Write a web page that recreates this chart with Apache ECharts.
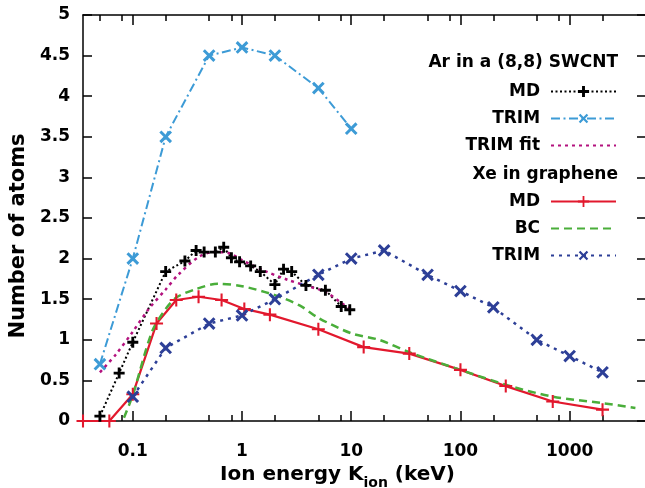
<!DOCTYPE html>
<html>
<meta charset="UTF-8">
<title>sputtered atoms vs ion energy</title>
<style type="text/css">
    html, body { margin: 0px; height: 100%; width: 100%; background: #fff; }
    #chart { width: 645px; height: 488px; }
</style>
<script src="https://cdn.jsdelivr.net/npm/echarts@6/dist/echarts.min.js"></script>
<body>
    <div id="chart"></div>
    <script>
        // Ar in a (8,8) SWCNT
        const arMdE = [0.05, 0.075, 0.1, 0.2, 0.3, 0.38, 0.45, 0.57, 0.68, 0.8, 0.95, 1.2, 1.47, 2, 2.4, 2.85, 3.85, 5.8, 8.1, 9.7];
        const arMdN = [0.06, 0.59, 0.97, 1.84, 1.97, 2.1, 2.08, 2.08, 2.14, 2.01, 1.96, 1.91, 1.84, 1.68, 1.87, 1.84, 1.67, 1.61, 1.41, 1.37];
        const arTrimE = [0.05, 0.1, 0.2, 0.5, 1, 2, 5, 10];
        const arTrimN = [0.7, 2.0, 3.5, 4.5, 4.6, 4.5, 4.1, 3.6];
        const arFitE = [0.05, 0.07, 0.1, 0.14, 0.2, 0.26, 0.4, 0.55, 0.75, 1, 1.6, 2.6, 3.8, 5.8, 8, 10];
        const arFitN = [0.6, 0.82, 1.1, 1.38, 1.62, 1.8, 2.02, 2.08, 2.07, 1.98, 1.85, 1.74, 1.67, 1.59, 1.46, 1.37];

        // Xe in graphene
        const xeMdE = [0.035, 0.061, 0.1, 0.165, 0.25, 0.4, 0.65, 1.05, 1.8, 5, 13, 34, 100, 260, 700, 2000];
        const xeMdN = [0, 0, 0.33, 1.2, 1.49, 1.53, 1.49, 1.38, 1.31, 1.13, 0.91, 0.83, 0.63, 0.43, 0.24, 0.14];
        const xeBcE = [0.083, 0.1, 0.15, 0.2, 0.25, 0.37, 0.6, 1, 2, 3.4, 5, 10, 18, 35, 100, 270, 700, 2000, 4000];
        const xeBcN = [0.04, 0.32, 1.1, 1.38, 1.52, 1.62, 1.69, 1.66, 1.55, 1.42, 1.27, 1.08, 1.0, 0.84, 0.63, 0.44, 0.3, 0.22, 0.16];
        const xeTrimE = [0.1, 0.2, 0.5, 1, 2, 5, 10, 20, 50, 100, 200, 500, 1000, 2000];
        const xeTrimN = [0.3, 0.9, 1.2, 1.3, 1.5, 1.8, 2.0, 2.1, 1.8, 1.6, 1.4, 1.0, 0.8, 0.6];

        const xMajor = [0.1, 1, 10, 100, 1000];
        const xMinor = [0.05, 0.08, 0.2, 0.5, 0.8, 2, 5, 8, 20, 50, 80, 200, 500, 800, 2000];

        const xMin = 0.035, xMax = 5000;
        const font = 'DejaVu Sans';
        const black = () => ({ color: '#000', width: 1.5 });

        const zip = (a, b) => a.map((v, i) => [v, b[i]]);
        // filled cross, t = half arm thickness (arm length 1)
        const cross = t => `path://M-1,-${t}H-${t}V-1H${t}V-${t}H1V${t}H${t}V1H-${t}V${t}H-1Z`;

        function line(name, data, color, type, width, symbol, size, rotate) {
            return {
                name: name,
                type: 'line',
                data: data,
                symbol: symbol || 'none',
                symbolSize: size || 0,
                symbolRotate: rotate || 0,
                showSymbol: !!symbol,
                lineStyle: { color: color, width: width, type: type },
                itemStyle: { color: color },
                emphasis: { disabled: true },
                animation: false
            };
        }

        // log energy axis; extra axes only carry tick marks
        const logAxis = (position, ticks, len, showLine) => ({
            type: 'log',
            position: position,
            min: xMin,
            max: xMax,
            logBase: 10,
            splitLine: { show: false },
            axisLabel: { show: false },
            axisLine: { show: showLine, onZero: false, lineStyle: black() },
            axisTick: { show: true, inside: true, length: len, customValues: ticks, lineStyle: black() }
        });

        const legendBase = () => ({
            orient: 'vertical', align: 'right', right: 28, padding: 0,
            itemWidth: 65, itemHeight: 14, itemGap: 10, selectedMode: false,
            formatter: n => n.slice(3) + ' ',
            textStyle: { fontFamily: font, fontWeight: 'bold', fontSize: 17, color: '#000' }
        });

        const bottomAxis = logAxis('bottom', xMajor, 10, true);
        bottomAxis.name = '{a|Ion energy K}{b|ion}{a| (keV)}';
        bottomAxis.nameLocation = 'middle';
        bottomAxis.nameGap = 44;
        bottomAxis.nameTextStyle = {
            padding: [0, 54, 0, 0],
            rich: {
                a: { fontFamily: font, fontWeight: 'bold', fontSize: 20, color: '#000', lineHeight: 24, verticalAlign: 'top' },
                b: { fontFamily: font, fontWeight: 'bold', fontSize: 14, color: '#000', lineHeight: 16, padding: [11, 0, 0, 0], verticalAlign: 'top' }
            }
        };
        bottomAxis.axisLabel = {
            show: true, customValues: xMajor, margin: 22,
            formatter: v => String(+Number(v).toPrecision(6)),
            fontFamily: font, fontWeight: 'bold', fontSize: 17, color: '#000'
        };

        const chart = echarts.init(document.getElementById('chart'));
        chart.setOption({
            animation: false,
            grid: { left: 83, top: 15, width: 563, height: 406, outerBoundsMode: 'none' },
            graphic: [
                { type: 'text', style: { text: 'Ar in a (8,8) SWCNT', x: 618, y: 63, align: 'right', verticalAlign: 'middle', font: 'bold 17px "DejaVu Sans"', fill: '#000' } },
                { type: 'text', style: { text: 'Xe in graphene', x: 618, y: 175, align: 'right', verticalAlign: 'middle', font: 'bold 17px "DejaVu Sans"', fill: '#000' } }
            ],
            legend: [
                Object.assign(legendBase(), {
                    top: 83,
                    data: ['Ar MD', 'Ar TRIM', { name: 'Ar TRIM fit', itemStyle: { opacity: 0 } }]
                }),
                Object.assign(legendBase(), {
                    top: 193,
                    data: ['Xe MD', { name: 'Xe BC', itemStyle: { opacity: 0 } }, 'Xe TRIM']
                })
            ],
            xAxis: [
                bottomAxis,
                logAxis('top', xMajor, 10, true),
                logAxis('bottom', xMinor, 6, false),
                logAxis('top', xMinor, 6, false)
            ],
            yAxis: [
                {
                    type: 'value', min: 0, max: 5, interval: 0.5, position: 'left',
                    name: 'Number of atoms', nameLocation: 'middle', nameGap: 45,
                    nameTextStyle: { fontFamily: font, fontWeight: 'bold', fontSize: 21, color: '#000', padding: [0, 36, 0, 0] },
                    splitLine: { show: false },
                    axisLine: { show: true, onZero: false, lineStyle: black() },
                    axisTick: { show: true, inside: true, length: 9, lineStyle: black() },
                    axisLabel: { margin: 13, fontFamily: font, fontWeight: 'bold', fontSize: 17, color: '#000' }
                },
                {
                    type: 'value', min: 0, max: 5, interval: 0.5, position: 'right',
                    splitLine: { show: false },
                    axisLine: { show: true, onZero: false, lineStyle: black() },
                    axisTick: { show: true, inside: true, length: 9, lineStyle: black() },
                    axisLabel: { show: false }
                }
            ],
            series: [
                line('Ar MD', zip(arMdE, arMdN), '#000000', [2, 2.5], 2, cross(0.26), 11),
                line('Ar TRIM', zip(arTrimE, arTrimN), '#3d9bd6', [9, 3.5, 2, 3.5], 2, cross(0.2), 15, 45),
                Object.assign(line('Ar TRIM fit', zip(arFitE, arFitN), '#b3127e', [3, 4], 2.5), { smooth: 0.3 }),
                line('Xe MD', zip(xeMdE, xeMdN), '#e2182d', 'solid', 2.2, cross(0.16), 13),
                Object.assign(line('Xe BC', zip(xeBcE, xeBcN), '#4aae3a', [8, 5], 2.5), { smooth: 0.3 }),
                line('Xe TRIM', zip(xeTrimE, xeTrimN), '#2d3f97', [3, 5], 2.5, cross(0.2), 15, 45)
            ]
        });
    </script>
</body>

</html>
